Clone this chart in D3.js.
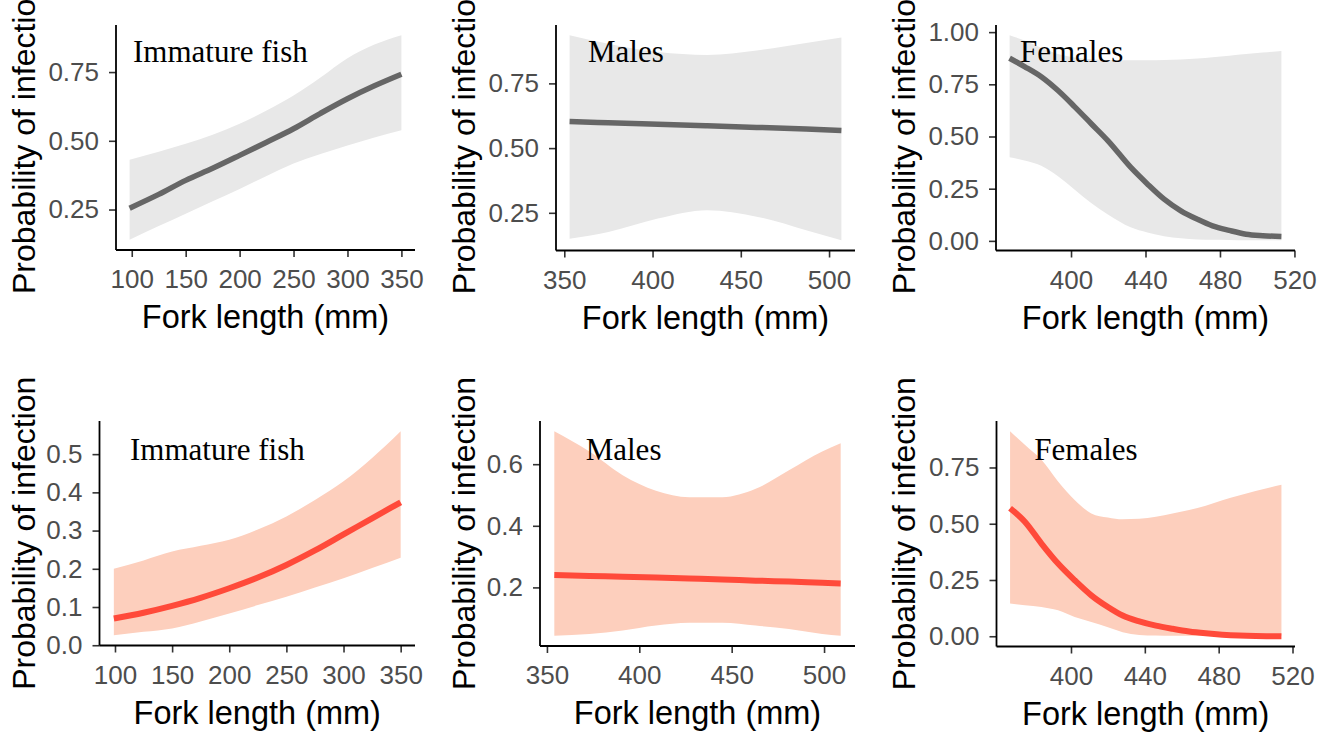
<!DOCTYPE html>
<html><head><meta charset="utf-8">
<script src="https://cdn.jsdelivr.net/npm/d3@7"></script>
<style>html,body{margin:0;padding:0;background:#fff;overflow:hidden}</style>
</head><body>
<script>
// ---------- DATA ----------
const panelLabels = ["Immature fish","Males","Females","Immature fish","Males","Females"];

// Panel 1: immature fish (grey)
const immGreyX   = [98,125,150,175,200,225,250,275,300,325,350];
const immGreyFit = [0.255,0.305,0.356,0.400,0.447,0.495,0.544,0.600,0.653,0.700,0.742];
const immGreyHi  = [0.431,0.460,0.489,0.522,0.562,0.610,0.665,0.730,0.800,0.850,0.884];
const immGreyLo  = [0.140,0.190,0.235,0.280,0.325,0.372,0.417,0.452,0.483,0.512,0.538];

// Panel 2: males (grey)
const maleGreyX   = [353,375,403,431,459,487,507];
const maleGreyFit = [0.603,0.598,0.592,0.586,0.580,0.574,0.568];
const maleGreyHi  = [0.936,0.903,0.871,0.860,0.877,0.906,0.927];
const maleGreyLo  = [0.150,0.176,0.228,0.260,0.235,0.183,0.144];

// Panel 3: females (grey)
const femGreyX   = [367,375,384,393,402,411,420,432,441,450,459,468,476,485,494,503,513];
const femGreyFit = [0.875,0.835,0.786,0.720,0.642,0.560,0.478,0.353,0.273,0.200,0.144,0.103,0.072,0.050,0.032,0.025,0.021];
const femGreyHi  = [0.985,0.960,0.925,0.895,0.878,0.870,0.867,0.865,0.865,0.866,0.869,0.874,0.880,0.887,0.895,0.902,0.910];
const femGreyLo  = [0.401,0.385,0.360,0.310,0.245,0.180,0.125,0.065,0.040,0.022,0.012,0.007,0.005,0.004,0.003,0.003,0.003];

// Panel 4: immature fish (red)
const immRedX   = [99,125,150,175,200,225,250,275,300,325,350];
const immRedFit = [0.070,0.085,0.103,0.124,0.149,0.177,0.210,0.248,0.290,0.332,0.374];
const immRedHi  = [0.200,0.222,0.245,0.260,0.276,0.303,0.337,0.380,0.429,0.490,0.560];
const immRedLo  = [0.026,0.035,0.044,0.062,0.083,0.105,0.127,0.151,0.175,0.202,0.229];

// Panel 5: males (red)
const maleRedX   = [354,373,391,409,427,445,463,481,499,509];
const maleRedFit = [0.240,0.237,0.235,0.232,0.229,0.226,0.222,0.219,0.215,0.213];
const maleRedHi  = [0.707,0.641,0.564,0.514,0.493,0.493,0.520,0.580,0.641,0.668];
const maleRedLo  = [0.043,0.049,0.060,0.076,0.085,0.085,0.076,0.065,0.049,0.043];

// Panel 6: females (red)
const femRedX   = [367,375,384,393,402,411,420,428,437,446,455,464,473,482,491,500,514];
const femRedFit = [0.569,0.509,0.412,0.323,0.249,0.182,0.130,0.092,0.066,0.047,0.033,0.021,0.013,0.007,0.003,0.001,0.000];
const femRedHi  = [0.911,0.851,0.784,0.688,0.606,0.546,0.528,0.520,0.522,0.531,0.545,0.561,0.580,0.604,0.625,0.645,0.673];
const femRedLo  = [0.145,0.138,0.130,0.115,0.085,0.063,0.040,0.018,0.006,0.003,0.002,0.002,0.002,0.002,0.002,0.002,0.002];

// Tick values
const xTicksImm = [100,150,200,250,300,350];
const xTicksMale = [350,400,450,500];
const xTicksFem = [400,440,480,520];
const yTicksGreyImm = [0.25,0.50,0.75];
const yTicksGreyMale = [0.25,0.50,0.75];
const yTicksGreyFem = [0.00,0.25,0.50,0.75,1.00];
const yTicksRedImm = [0.0,0.1,0.2,0.3,0.4,0.5];
const yTicksRedMale = [0.2,0.4,0.6];
const yTicksRedFem = [0.00,0.25,0.50,0.75];

const xTitle = "Fork length (mm)";
const yTitle = "Probability of infection";

// ---------- LAYOUT / STYLE ----------
const W = 1327, H = 734;
const grey = {line:"#666666", band:"#e8e8e8", lw:5.5};
const red  = {line:"#ff4a3a", band:"#fdcfbd", lw:6};

const panels = [
  {x:immGreyX, fit:immGreyFit, hi:immGreyHi, lo:immGreyLo, xt:xTicksImm, yt:yTicksGreyImm, fmt:".2f", col:grey,
   col0:0, box:{l:116,r:415,t:25,b:250}, lab:{dx:17,dy:36.7}},
  {x:maleGreyX, fit:maleGreyFit, hi:maleGreyHi, lo:maleGreyLo, xt:xTicksMale, yt:yTicksGreyMale, fmt:".2f", col:grey,
   col0:440, box:{l:556,r:855,t:25,b:250.5}, lab:{dx:32,dy:36.7}},
  {x:femGreyX, fit:femGreyFit, hi:femGreyHi, lo:femGreyLo, xt:xTicksFem, yt:yTicksGreyFem, fmt:".2f", col:grey,
   col0:880, box:{l:996,r:1295,t:25,b:250.5}, lab:{dx:24,dy:36.7}},
  {x:immRedX, fit:immRedFit, hi:immRedHi, lo:immRedLo, xt:xTicksImm, yt:yTicksRedImm, fmt:".1f", col:red,
   col0:0, box:{l:99.5,r:415,t:421,b:645.5}, lab:{dx:30.5,dy:39}},
  {x:maleRedX, fit:maleRedFit, hi:maleRedHi, lo:maleRedLo, xt:xTicksMale, yt:yTicksRedMale, fmt:".1f", col:red,
   col0:440, box:{l:540,r:855,t:421,b:646}, lab:{dx:45.7,dy:39}},
  {x:femRedX, fit:femRedFit, hi:femRedHi, lo:femRedLo, xt:xTicksFem, yt:yTicksRedFem, fmt:".2f", col:red,
   col0:880, box:{l:996.5,r:1295,t:421,b:646.5}, lab:{dx:37.8,dy:39}},
];

const svg = d3.select("body").append("svg").attr("width",W).attr("height",H)
  .style("font-family","'Liberation Sans', Arial, sans-serif");

function expand(ext){ const d=(ext[1]-ext[0])*0.05; return [ext[0]-d, ext[1]+d]; }

panels.forEach((p,i)=>{
  const b = p.box;
  const rows = p.x.map((xv,j)=>({x:xv, fit:p.fit[j], hi:p.hi[j], lo:p.lo[j]}));
  const xs = d3.scaleLinear().domain(expand(d3.extent(p.x))).range([b.l,b.r]);
  const yAll = p.hi.concat(p.lo, p.fit);
  const ys = d3.scaleLinear().domain(expand(d3.extent(yAll))).range([b.b,b.t]);
  const g = svg.append("g");

  g.append("path").datum(rows)
    .attr("d", d3.area().x(d=>xs(d.x)).y0(d=>ys(d.lo)).y1(d=>ys(d.hi)).curve(d3.curveMonotoneX))
    .attr("fill", p.col.band);
  g.append("path").datum(rows)
    .attr("d", d3.line().x(d=>xs(d.x)).y(d=>ys(d.fit)).curve(d3.curveMonotoneX))
    .attr("fill","none").attr("stroke",p.col.line).attr("stroke-width",p.col.lw)
    .attr("stroke-linecap","butt");

  // label
  g.append("text").attr("x", b.l + p.lab.dx).attr("y", b.t + p.lab.dy)
    .style("font-family","'Liberation Serif','Times New Roman',serif")
    .style("font-size","31px").attr("fill","#000").text(panelLabels[i]);

  // axes
  const xa = g.append("g").attr("transform",`translate(0,${b.b})`)
    .call(d3.axisBottom(xs).tickValues(p.xt).tickFormat(d3.format("d")).tickSize(7).tickSizeOuter(0).tickPadding(13));
  const ya = g.append("g").attr("transform",`translate(${b.l},0)`)
    .call(d3.axisLeft(ys).tickValues(p.yt).tickFormat(d3.format(p.fmt)).tickSize(7).tickSizeOuter(0).tickPadding(10));
  [xa,ya].forEach(a=>{
    a.select(".domain").remove();
    a.selectAll(".tick line").attr("stroke","#333").attr("stroke-width",1.6);
    a.selectAll(".tick text").attr("fill","#4d4d4d").style("font-size","26px")
      .style("font-family","'Liberation Sans', Arial, sans-serif");
  });
  xa.selectAll(".tick text").attr("dy","0.71em");
  // axis lines spanning the full panel
  g.append("line").attr("x1",b.l).attr("x2",b.r).attr("y1",b.b).attr("y2",b.b)
    .attr("stroke","#000").attr("stroke-width",1.8);
  g.append("line").attr("x1",b.l).attr("x2",b.l).attr("y1",b.t).attr("y2",b.b)
    .attr("stroke","#000").attr("stroke-width",1.8);

  // titles
  g.append("text").attr("x",(b.l+b.r)/2).attr("y",b.b+78).attr("text-anchor","middle")
    .style("font-size","32.5px").attr("fill","#000").text(xTitle);
  g.append("text").attr("transform",`translate(${p.col0+35},${(b.t+b.b)/2}) rotate(-90)`)
    .attr("text-anchor","middle")
    .style("font-size","32px").attr("fill","#000").text(yTitle);
});
</script>
</body></html>
